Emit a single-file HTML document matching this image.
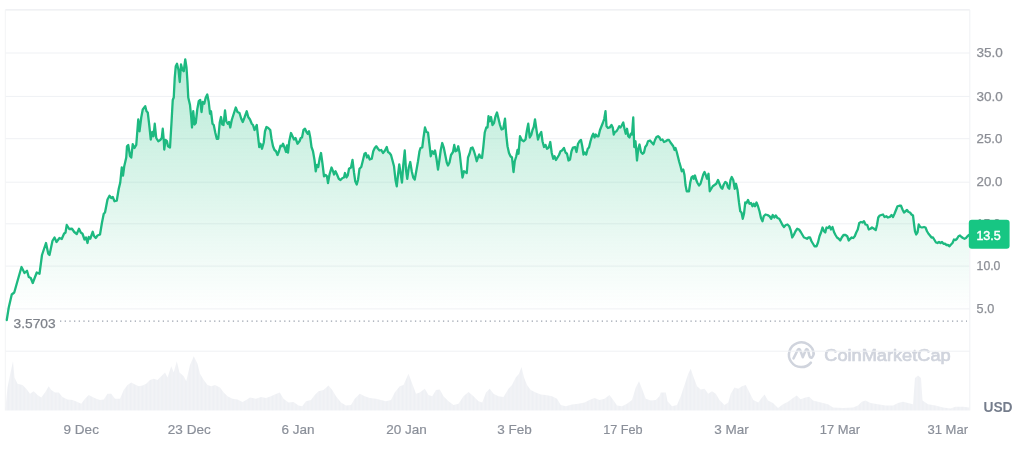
<!DOCTYPE html>
<html lang="en"><head><meta charset="utf-8"><title>Chart</title>
<style>
html,body{margin:0;padding:0;background:#fff;}
body{width:1024px;height:454px;overflow:hidden;position:relative;font-family:"Liberation Sans",sans-serif;}
svg{position:absolute;left:0;top:0;display:block;filter:blur(0.45px);}
text{font-family:"Liberation Sans",sans-serif;}
</style></head><body>
<svg width="1024" height="454" viewBox="0 0 1024 454">
<defs>
<linearGradient id="g" x1="0" y1="59" x2="0" y2="311" gradientUnits="userSpaceOnUse">
<stop offset="0" stop-color="#20c081" stop-opacity="0.31"/>
<stop offset="0.5" stop-color="#20c081" stop-opacity="0.165"/>
<stop offset="0.8" stop-color="#20c081" stop-opacity="0.062"/>
<stop offset="1" stop-color="#20c081" stop-opacity="0.0"/>
</linearGradient>
<pattern id="vb" x="5.5" y="0" width="1.34" height="10" patternUnits="userSpaceOnUse"><rect x="0" y="0" width="1.34" height="10" fill="#f3f4f7"/><rect x="0" y="0" width="0.8" height="10" fill="#eef0f4"/></pattern>
<filter id="soft" x="-5%" y="-5%" width="110%" height="110%"><feGaussianBlur stdDeviation="0.35"/></filter>
</defs>

<g fill="none" stroke="#d0d4dd" stroke-width="2.5" stroke-linecap="round" stroke-linejoin="round">
<path d="M810.9,362.6 A12.4,12.4 0 1 1 813.7,353.6"/>
<path d="M793.5,358.4 L797.6,350.2 Q799.0,347.6 800.3,350.3 L802.75,357.2 L805.6,350.4 Q806.9,347.8 808.1,350.5 L809.3,355.4 Q810.2,358.6 812.0,357.4 Q813.5,356.2 813.7,353.6"/>
</g>
<text x="824.3" y="360.8" font-size="17.2" font-weight="400" fill="#d0d4dd" stroke="#d0d4dd" stroke-width="0.7" stroke-linejoin="round" textLength="126.3" lengthAdjust="spacingAndGlyphs">CoinMarketCap</text>

<line x1="5.3" x2="969.8" y1="53" y2="53" stroke="#eff1f4" stroke-width="1"/>
<line x1="5.3" x2="969.8" y1="96.4" y2="96.4" stroke="#eff1f4" stroke-width="1"/>
<line x1="5.3" x2="969.8" y1="138.7" y2="138.7" stroke="#eff1f4" stroke-width="1"/>
<line x1="5.3" x2="969.8" y1="182.2" y2="182.2" stroke="#eff1f4" stroke-width="1"/>
<line x1="5.3" x2="969.8" y1="223.8" y2="223.8" stroke="#eff1f4" stroke-width="1"/>
<line x1="5.3" x2="969.8" y1="266.1" y2="266.1" stroke="#eff1f4" stroke-width="1"/>
<line x1="5.3" x2="969.8" y1="308.9" y2="308.9" stroke="#eff1f4" stroke-width="1"/>
<line x1="5.3" x2="969.8" y1="351.2" y2="351.2" stroke="#eff1f4" stroke-width="1"/>
<line x1="5.3" x2="969.8" y1="9.8" y2="9.8" stroke="#ebedf0" stroke-width="1.2"/>
<line x1="5.3" x2="5.3" y1="9.8" y2="410.5" stroke="#f3f4f6" stroke-width="1"/>
<line x1="969.8" x2="969.8" y1="9.8" y2="410.5" stroke="#eff1f4" stroke-width="1"/>
<path d="M5.50,407.50 L7.50,387.50 L10.00,375.00 L13.00,361.25 L14.50,377.50 L17.50,383.75 L22.50,385.00 L26.25,388.75 L30.00,393.75 L33.75,391.25 L37.50,395.00 L41.25,397.50 L45.00,392.50 L48.75,386.25 L51.25,390.00 L55.00,392.50 L58.75,392.50 L62.50,397.00 L67.50,399.50 L72.50,400.00 L77.50,402.00 L81.25,403.75 L85.00,398.75 L88.75,395.00 L92.50,397.00 L96.25,398.75 L100.00,400.00 L103.75,399.50 L107.50,393.75 L111.25,393.75 L115.00,398.75 L120.00,398.75 L123.75,390.00 L127.50,385.00 L131.25,382.50 L135.00,384.50 L138.75,386.25 L142.50,385.50 L146.25,383.75 L150.00,380.00 L153.75,378.75 L157.50,380.00 L161.25,376.25 L165.00,372.50 L167.50,377.50 L171.25,366.25 L173.75,372.50 L176.75,361.25 L179.50,372.50 L183.75,376.25 L186.25,381.25 L190.00,365.00 L193.75,356.25 L197.50,363.75 L200.00,373.75 L203.75,380.00 L207.50,385.00 L211.25,386.25 L215.00,385.00 L220.00,387.50 L223.75,392.50 L227.50,396.25 L232.50,398.75 L237.50,399.50 L242.50,402.00 L246.25,400.00 L250.00,397.50 L256.00,398.75 L261.00,397.00 L266.00,398.00 L271.00,396.25 L274.75,394.50 L279.75,392.50 L283.50,398.75 L288.50,402.50 L293.50,402.00 L298.50,405.50 L302.25,406.25 L306.00,401.25 L311.00,400.00 L314.75,395.00 L318.50,391.25 L323.50,390.00 L328.50,385.50 L332.25,390.00 L336.00,396.25 L341.00,402.50 L346.00,405.50 L351.00,405.00 L354.75,398.75 L359.75,393.75 L364.75,396.25 L369.75,398.00 L376.00,398.75 L381.00,400.00 L386.00,401.25 L391.00,400.00 L394.75,392.50 L399.75,386.25 L403.50,385.00 L408.50,373.75 L412.25,383.75 L416.00,393.75 L419.75,392.50 L424.75,388.75 L428.50,395.00 L432.25,396.25 L436.00,390.00 L439.75,389.50 L443.50,396.25 L448.50,401.25 L453.50,405.00 L458.50,403.75 L463.50,396.25 L468.50,392.00 L473.50,396.25 L478.50,401.25 L482.25,402.50 L486.00,392.50 L489.75,388.75 L493.50,393.75 L498.50,396.25 L503.50,397.00 L508.50,388.75 L512.00,385.00 L515.75,377.50 L519.00,373.75 L521.50,367.00 L524.00,377.50 L527.00,385.00 L530.75,390.00 L535.75,392.50 L540.75,394.50 L545.75,395.00 L552.00,396.25 L557.00,398.75 L560.75,405.00 L565.75,406.25 L572.00,404.50 L578.25,403.75 L584.50,402.50 L589.50,400.00 L594.50,398.00 L599.50,400.00 L604.50,398.75 L609.50,395.00 L613.25,400.00 L617.00,405.50 L622.00,406.25 L627.00,403.75 L632.00,400.00 L635.75,387.50 L639.00,381.25 L642.00,388.75 L645.75,398.75 L650.75,400.50 L655.75,400.00 L659.50,396.25 L660.75,392.50 L665.75,392.50 L667.50,401.25 L672.00,406.25 L677.00,405.00 L680.75,396.25 L684.50,385.00 L688.25,373.75 L690.75,368.75 L693.25,376.25 L697.00,386.25 L700.75,389.50 L704.50,388.75 L708.25,393.75 L712.00,391.25 L715.75,393.75 L719.50,400.00 L724.50,405.00 L728.25,402.50 L730.75,393.75 L734.50,387.50 L738.25,388.75 L742.00,386.25 L745.75,385.00 L749.50,392.50 L753.25,400.00 L758.25,402.50 L762.00,397.50 L764.50,394.50 L768.00,400.50 L773.00,403.00 L778.00,408.00 L783.00,404.25 L788.00,401.75 L793.00,398.00 L796.75,395.50 L800.50,399.25 L805.50,397.50 L809.25,396.75 L813.00,400.50 L818.00,401.75 L823.00,403.00 L828.00,404.25 L833.00,407.50 L843.00,408.00 L853.00,407.50 L858.00,405.50 L861.75,401.75 L865.50,400.50 L870.50,403.00 L878.00,404.25 L885.50,405.50 L893.00,405.50 L898.00,403.00 L903.00,401.75 L908.00,403.00 L913.00,404.25 L915.00,378.00 L918.00,375.50 L921.00,378.00 L922.50,400.50 L928.00,404.25 L935.50,405.50 L943.00,407.50 L950.50,408.50 L955.50,406.75 L963.00,406.75 L969.25,407.50 L969.25,410.5 L5.50,410.5 Z" fill="url(#vb)"/>
<path d="M6.75,320.00 L8.75,307.50 L11.75,294.50 L14.25,292.50 L17.50,281.00 L21.50,267.00 L24.50,273.00 L27.00,270.75 L28.75,277.00 L30.75,278.00 L32.75,283.00 L36.75,272.50 L39.50,273.75 L42.00,255.00 L46.00,243.00 L48.25,253.75 L49.50,255.00 L52.50,240.75 L54.50,237.50 L56.50,242.00 L59.50,238.00 L61.75,239.00 L64.00,233.75 L65.50,232.50 L66.75,225.00 L69.25,229.00 L72.00,228.75 L74.25,232.00 L76.75,234.00 L79.00,228.75 L80.75,232.50 L82.50,233.75 L84.50,239.50 L86.00,237.50 L87.50,243.00 L88.75,237.00 L90.25,238.75 L92.75,231.75 L94.00,236.00 L95.75,238.00 L97.50,235.50 L100.00,234.50 L102.00,222.50 L103.75,213.75 L105.00,212.50 L107.50,199.50 L109.50,195.75 L111.25,198.00 L112.75,197.00 L114.50,201.25 L116.75,200.75 L118.75,188.75 L120.25,182.50 L121.75,167.50 L123.00,175.50 L124.25,166.25 L126.25,157.50 L127.00,146.25 L128.25,145.00 L130.00,156.00 L131.25,157.50 L132.75,144.25 L134.50,148.00 L136.25,145.00 L138.25,119.50 L139.50,131.25 L141.25,117.50 L142.75,109.50 L145.25,106.25 L146.50,111.25 L147.75,112.50 L149.25,125.00 L150.75,139.50 L152.25,132.00 L153.50,136.25 L154.75,123.75 L156.25,138.00 L158.25,141.25 L160.25,140.00 L161.75,138.00 L162.75,128.75 L163.75,140.00 L164.25,149.50 L165.50,140.00 L167.00,141.25 L168.00,146.25 L170.00,147.50 L171.50,122.50 L172.75,100.00 L173.75,97.50 L174.75,77.50 L175.75,66.25 L177.00,63.75 L178.50,70.00 L179.75,82.00 L181.00,64.50 L182.50,70.00 L183.75,71.25 L185.25,59.50 L186.50,67.50 L187.50,82.50 L188.25,97.50 L190.00,105.00 L191.25,117.50 L192.00,127.50 L193.25,111.25 L194.50,124.50 L195.75,123.00 L197.25,109.50 L198.75,101.25 L200.25,100.00 L201.50,112.00 L202.75,102.00 L204.25,103.75 L205.75,97.50 L207.25,94.50 L208.75,102.00 L210.00,113.75 L211.00,111.25 L212.50,123.75 L213.75,125.00 L215.25,132.50 L216.75,138.75 L218.25,138.75 L219.75,122.50 L221.00,117.00 L222.25,124.50 L223.50,125.00 L225.00,110.50 L226.25,121.25 L227.75,123.75 L229.00,122.00 L230.25,127.50 L231.75,120.00 L233.75,113.75 L235.75,107.50 L237.50,112.00 L239.50,113.00 L241.25,118.75 L242.75,122.00 L244.50,117.50 L246.75,111.25 L248.25,117.00 L250.00,119.50 L251.75,123.75 L253.00,125.00 L254.50,130.00 L256.75,125.00 L258.00,136.25 L259.25,147.00 L260.50,143.75 L262.00,148.75 L263.75,142.50 L265.00,131.25 L266.50,127.00 L268.25,128.00 L270.25,130.00 L271.50,138.75 L273.00,146.25 L274.50,150.00 L276.00,151.25 L277.50,155.00 L279.00,151.25 L280.50,145.75 L281.75,146.25 L283.00,143.75 L284.50,147.50 L286.00,152.00 L287.00,145.50 L288.00,152.50 L289.25,141.25 L291.00,133.00 L292.50,136.25 L294.00,139.50 L295.50,138.00 L297.50,143.75 L299.50,141.25 L300.75,138.00 L302.00,137.50 L303.50,130.00 L305.00,128.75 L306.50,132.00 L307.75,133.75 L309.00,131.25 L310.25,137.50 L311.50,147.00 L313.00,151.25 L314.50,160.00 L315.75,171.25 L317.00,165.00 L318.25,167.00 L319.75,158.00 L321.00,153.00 L322.50,163.75 L324.00,176.25 L325.75,175.00 L327.00,176.25 L328.00,183.00 L329.50,174.50 L331.50,167.50 L333.00,171.25 L334.00,174.50 L335.50,171.25 L337.00,174.50 L338.75,178.75 L340.50,180.00 L342.50,178.00 L344.00,177.50 L345.00,173.00 L346.50,177.50 L347.75,175.50 L349.00,168.75 L351.00,167.50 L352.50,160.00 L354.00,172.50 L355.25,181.25 L356.75,184.50 L358.00,180.00 L359.50,168.75 L361.25,167.00 L363.00,160.00 L364.50,153.75 L365.75,153.00 L367.00,157.50 L368.25,155.50 L369.75,159.50 L371.75,158.75 L373.25,151.25 L374.75,148.00 L376.25,146.25 L378.00,148.75 L379.50,150.50 L381.25,150.00 L383.00,153.00 L385.00,150.50 L386.75,147.00 L388.00,152.00 L389.50,153.00 L391.00,155.00 L392.50,160.50 L394.00,166.25 L395.50,180.00 L396.75,186.25 L398.00,175.00 L399.25,164.50 L400.50,172.50 L402.00,182.50 L403.25,165.00 L404.75,150.50 L406.00,170.00 L407.25,178.75 L408.75,167.50 L410.25,162.00 L411.75,171.25 L413.25,177.50 L414.75,179.50 L416.25,171.25 L418.00,161.25 L419.50,151.25 L420.50,148.00 L422.25,147.50 L423.50,137.50 L425.00,127.50 L426.50,132.00 L428.00,132.50 L429.50,145.00 L430.75,156.25 L432.25,151.25 L433.75,153.75 L435.00,150.50 L436.50,158.75 L438.00,169.50 L439.25,161.25 L440.75,150.00 L442.25,143.00 L443.75,147.50 L445.25,155.00 L446.75,162.50 L448.00,165.50 L449.50,162.50 L451.00,155.00 L453.00,152.00 L454.25,145.00 L455.50,151.25 L457.00,150.50 L458.25,146.25 L459.75,153.75 L461.25,167.50 L462.50,177.50 L464.00,171.25 L465.50,172.00 L466.75,173.00 L468.00,157.50 L469.50,153.75 L471.00,148.00 L472.50,147.50 L474.00,151.25 L475.50,156.25 L476.75,161.25 L478.00,157.50 L479.25,154.50 L480.50,157.50 L482.00,158.00 L483.25,147.50 L484.75,132.50 L486.25,127.50 L487.50,127.50 L488.50,116.25 L489.75,121.25 L491.00,117.00 L492.50,125.00 L494.00,123.00 L495.50,116.25 L497.00,112.50 L498.50,118.75 L500.00,125.00 L501.50,129.50 L503.25,128.75 L505.00,118.75 L506.25,135.00 L507.50,146.25 L509.00,153.00 L510.50,156.25 L512.00,157.50 L513.50,172.00 L514.75,161.25 L516.25,156.25 L517.50,150.00 L518.50,153.75 L520.00,136.25 L521.75,140.00 L523.75,141.25 L525.50,139.50 L527.00,130.00 L528.25,123.75 L529.75,137.50 L531.25,135.00 L532.50,130.00 L533.75,127.00 L535.00,119.50 L536.50,130.00 L538.00,139.50 L539.50,135.00 L541.25,132.00 L542.50,141.25 L544.00,147.00 L545.50,145.00 L547.00,148.75 L548.75,147.50 L550.25,142.00 L551.75,153.00 L553.25,158.75 L554.50,156.25 L556.00,160.00 L557.50,157.50 L559.00,155.00 L560.50,151.25 L562.00,150.50 L564.00,148.00 L565.50,152.50 L567.00,153.75 L568.50,160.50 L570.00,159.50 L571.50,151.25 L573.00,147.50 L575.00,147.00 L576.50,152.00 L578.00,143.75 L579.50,141.25 L581.00,140.00 L582.25,146.25 L583.50,154.50 L584.75,152.50 L586.25,154.50 L587.75,148.75 L589.00,147.50 L590.50,141.25 L592.00,136.25 L593.25,133.75 L594.50,137.50 L595.75,134.50 L597.00,136.25 L598.50,136.25 L600.00,130.00 L601.50,126.25 L603.00,122.50 L604.25,118.75 L605.50,111.25 L606.50,126.25 L608.00,128.00 L609.75,127.50 L611.50,125.00 L612.75,127.50 L613.75,134.50 L615.00,132.00 L616.50,131.25 L618.00,128.75 L619.25,126.25 L620.50,127.50 L621.75,125.50 L623.25,122.50 L624.50,128.75 L625.75,133.75 L627.00,128.75 L628.25,136.25 L629.50,137.50 L630.75,133.75 L632.00,134.50 L633.25,117.50 L634.25,147.00 L635.50,141.25 L637.00,160.50 L638.25,148.75 L639.50,144.50 L641.00,152.00 L642.50,153.75 L644.00,152.50 L645.25,147.00 L646.75,145.00 L648.00,141.25 L650.00,140.50 L651.75,142.50 L653.50,144.50 L655.00,140.00 L656.50,137.00 L658.00,136.25 L659.50,137.50 L660.75,140.00 L662.50,139.50 L664.00,142.00 L665.75,141.25 L667.50,140.00 L669.00,140.00 L670.50,142.50 L672.00,144.50 L673.25,146.25 L674.50,150.00 L675.50,148.00 L676.75,152.00 L678.00,157.00 L679.25,162.00 L680.50,166.25 L681.75,171.25 L683.25,169.50 L684.50,175.00 L685.50,185.00 L686.75,191.25 L689.00,191.25 L690.25,182.50 L691.50,177.50 L693.00,176.25 L693.75,178.75 L695.00,175.50 L696.25,180.00 L697.50,183.00 L699.00,185.50 L700.50,183.75 L702.00,178.75 L703.25,174.50 L704.50,172.00 L705.75,175.00 L707.00,178.75 L708.50,173.75 L709.75,191.25 L711.25,188.75 L712.75,186.25 L714.50,185.00 L716.25,183.75 L718.00,180.00 L719.50,183.75 L721.00,187.50 L722.25,188.75 L723.75,184.50 L725.25,182.00 L726.75,183.00 L728.00,187.50 L729.25,188.75 L730.50,180.00 L731.75,177.00 L733.25,180.00 L734.75,188.75 L736.00,183.75 L737.50,190.00 L739.00,202.50 L740.25,211.25 L741.50,212.50 L742.75,218.75 L744.00,213.75 L745.25,202.50 L746.50,203.00 L748.00,200.00 L749.50,203.75 L751.00,203.00 L752.50,206.25 L753.75,203.75 L755.00,206.25 L756.50,202.50 L758.00,206.25 L759.50,211.25 L761.00,218.00 L762.50,221.25 L763.75,216.25 L765.50,214.50 L767.50,215.00 L769.50,216.25 L771.25,218.75 L772.75,215.00 L774.25,217.50 L775.75,215.50 L777.50,218.00 L779.25,218.75 L781.00,222.00 L782.50,225.00 L784.00,227.00 L785.75,225.00 L787.50,224.50 L789.25,226.25 L790.75,230.50 L792.25,237.50 L793.75,235.00 L795.50,231.25 L797.25,228.75 L799.00,229.50 L800.75,232.00 L802.50,235.00 L804.00,237.50 L805.50,238.00 L807.00,238.75 L808.50,237.50 L810.00,237.50 L811.50,241.25 L813.00,243.75 L814.50,246.25 L816.50,246.25 L818.00,242.50 L819.50,236.25 L821.00,232.50 L822.50,227.50 L824.00,231.25 L825.25,232.50 L826.50,227.50 L828.00,228.00 L829.50,226.25 L831.00,229.50 L832.50,227.00 L834.00,232.00 L835.50,235.00 L837.00,237.50 L838.75,238.75 L840.25,240.50 L841.75,237.50 L843.50,235.00 L845.50,235.00 L847.25,236.25 L848.75,240.50 L850.25,238.75 L851.75,237.50 L853.25,238.00 L854.75,236.25 L856.25,232.50 L857.75,229.50 L859.25,223.00 L861.00,222.00 L862.50,222.50 L864.00,221.25 L865.50,224.50 L867.25,225.00 L868.75,229.50 L870.50,228.75 L872.00,227.50 L874.00,228.75 L875.75,230.00 L877.00,225.00 L878.25,217.50 L879.75,215.50 L881.25,215.00 L883.00,214.50 L884.50,217.00 L886.25,216.25 L888.00,217.50 L889.75,217.00 L891.50,215.00 L893.00,217.00 L894.50,213.75 L896.00,210.00 L897.50,206.25 L899.25,205.75 L901.00,205.75 L902.50,209.50 L904.00,212.50 L905.50,211.25 L907.00,210.00 L908.50,212.00 L910.00,212.50 L911.50,214.50 L913.00,215.50 L914.00,223.75 L915.00,231.25 L916.25,234.50 L917.50,232.50 L918.75,224.50 L920.25,227.00 L922.00,227.50 L924.00,227.00 L925.50,227.50 L927.00,231.25 L928.50,233.75 L930.00,235.50 L931.50,237.50 L933.00,237.50 L934.50,240.00 L936.00,242.50 L937.50,243.00 L939.00,242.00 L940.50,243.00 L942.00,242.00 L943.50,243.75 L945.00,243.75 L946.50,245.00 L948.00,245.00 L949.50,246.25 L951.00,244.50 L952.50,243.00 L954.00,239.50 L955.50,240.00 L957.00,238.75 L958.50,236.25 L960.00,235.50 L961.50,237.00 L963.00,238.00 L964.50,238.75 L966.00,238.00 L967.50,236.25 L969.00,235.00 L969.00,351 L6.75,351 Z" fill="url(#g)"/>
<path d="M6.75,320.00 L8.75,307.50 L11.75,294.50 L14.25,292.50 L17.50,281.00 L21.50,267.00 L24.50,273.00 L27.00,270.75 L28.75,277.00 L30.75,278.00 L32.75,283.00 L36.75,272.50 L39.50,273.75 L42.00,255.00 L46.00,243.00 L48.25,253.75 L49.50,255.00 L52.50,240.75 L54.50,237.50 L56.50,242.00 L59.50,238.00 L61.75,239.00 L64.00,233.75 L65.50,232.50 L66.75,225.00 L69.25,229.00 L72.00,228.75 L74.25,232.00 L76.75,234.00 L79.00,228.75 L80.75,232.50 L82.50,233.75 L84.50,239.50 L86.00,237.50 L87.50,243.00 L88.75,237.00 L90.25,238.75 L92.75,231.75 L94.00,236.00 L95.75,238.00 L97.50,235.50 L100.00,234.50 L102.00,222.50 L103.75,213.75 L105.00,212.50 L107.50,199.50 L109.50,195.75 L111.25,198.00 L112.75,197.00 L114.50,201.25 L116.75,200.75 L118.75,188.75 L120.25,182.50 L121.75,167.50 L123.00,175.50 L124.25,166.25 L126.25,157.50 L127.00,146.25 L128.25,145.00 L130.00,156.00 L131.25,157.50 L132.75,144.25 L134.50,148.00 L136.25,145.00 L138.25,119.50 L139.50,131.25 L141.25,117.50 L142.75,109.50 L145.25,106.25 L146.50,111.25 L147.75,112.50 L149.25,125.00 L150.75,139.50 L152.25,132.00 L153.50,136.25 L154.75,123.75 L156.25,138.00 L158.25,141.25 L160.25,140.00 L161.75,138.00 L162.75,128.75 L163.75,140.00 L164.25,149.50 L165.50,140.00 L167.00,141.25 L168.00,146.25 L170.00,147.50 L171.50,122.50 L172.75,100.00 L173.75,97.50 L174.75,77.50 L175.75,66.25 L177.00,63.75 L178.50,70.00 L179.75,82.00 L181.00,64.50 L182.50,70.00 L183.75,71.25 L185.25,59.50 L186.50,67.50 L187.50,82.50 L188.25,97.50 L190.00,105.00 L191.25,117.50 L192.00,127.50 L193.25,111.25 L194.50,124.50 L195.75,123.00 L197.25,109.50 L198.75,101.25 L200.25,100.00 L201.50,112.00 L202.75,102.00 L204.25,103.75 L205.75,97.50 L207.25,94.50 L208.75,102.00 L210.00,113.75 L211.00,111.25 L212.50,123.75 L213.75,125.00 L215.25,132.50 L216.75,138.75 L218.25,138.75 L219.75,122.50 L221.00,117.00 L222.25,124.50 L223.50,125.00 L225.00,110.50 L226.25,121.25 L227.75,123.75 L229.00,122.00 L230.25,127.50 L231.75,120.00 L233.75,113.75 L235.75,107.50 L237.50,112.00 L239.50,113.00 L241.25,118.75 L242.75,122.00 L244.50,117.50 L246.75,111.25 L248.25,117.00 L250.00,119.50 L251.75,123.75 L253.00,125.00 L254.50,130.00 L256.75,125.00 L258.00,136.25 L259.25,147.00 L260.50,143.75 L262.00,148.75 L263.75,142.50 L265.00,131.25 L266.50,127.00 L268.25,128.00 L270.25,130.00 L271.50,138.75 L273.00,146.25 L274.50,150.00 L276.00,151.25 L277.50,155.00 L279.00,151.25 L280.50,145.75 L281.75,146.25 L283.00,143.75 L284.50,147.50 L286.00,152.00 L287.00,145.50 L288.00,152.50 L289.25,141.25 L291.00,133.00 L292.50,136.25 L294.00,139.50 L295.50,138.00 L297.50,143.75 L299.50,141.25 L300.75,138.00 L302.00,137.50 L303.50,130.00 L305.00,128.75 L306.50,132.00 L307.75,133.75 L309.00,131.25 L310.25,137.50 L311.50,147.00 L313.00,151.25 L314.50,160.00 L315.75,171.25 L317.00,165.00 L318.25,167.00 L319.75,158.00 L321.00,153.00 L322.50,163.75 L324.00,176.25 L325.75,175.00 L327.00,176.25 L328.00,183.00 L329.50,174.50 L331.50,167.50 L333.00,171.25 L334.00,174.50 L335.50,171.25 L337.00,174.50 L338.75,178.75 L340.50,180.00 L342.50,178.00 L344.00,177.50 L345.00,173.00 L346.50,177.50 L347.75,175.50 L349.00,168.75 L351.00,167.50 L352.50,160.00 L354.00,172.50 L355.25,181.25 L356.75,184.50 L358.00,180.00 L359.50,168.75 L361.25,167.00 L363.00,160.00 L364.50,153.75 L365.75,153.00 L367.00,157.50 L368.25,155.50 L369.75,159.50 L371.75,158.75 L373.25,151.25 L374.75,148.00 L376.25,146.25 L378.00,148.75 L379.50,150.50 L381.25,150.00 L383.00,153.00 L385.00,150.50 L386.75,147.00 L388.00,152.00 L389.50,153.00 L391.00,155.00 L392.50,160.50 L394.00,166.25 L395.50,180.00 L396.75,186.25 L398.00,175.00 L399.25,164.50 L400.50,172.50 L402.00,182.50 L403.25,165.00 L404.75,150.50 L406.00,170.00 L407.25,178.75 L408.75,167.50 L410.25,162.00 L411.75,171.25 L413.25,177.50 L414.75,179.50 L416.25,171.25 L418.00,161.25 L419.50,151.25 L420.50,148.00 L422.25,147.50 L423.50,137.50 L425.00,127.50 L426.50,132.00 L428.00,132.50 L429.50,145.00 L430.75,156.25 L432.25,151.25 L433.75,153.75 L435.00,150.50 L436.50,158.75 L438.00,169.50 L439.25,161.25 L440.75,150.00 L442.25,143.00 L443.75,147.50 L445.25,155.00 L446.75,162.50 L448.00,165.50 L449.50,162.50 L451.00,155.00 L453.00,152.00 L454.25,145.00 L455.50,151.25 L457.00,150.50 L458.25,146.25 L459.75,153.75 L461.25,167.50 L462.50,177.50 L464.00,171.25 L465.50,172.00 L466.75,173.00 L468.00,157.50 L469.50,153.75 L471.00,148.00 L472.50,147.50 L474.00,151.25 L475.50,156.25 L476.75,161.25 L478.00,157.50 L479.25,154.50 L480.50,157.50 L482.00,158.00 L483.25,147.50 L484.75,132.50 L486.25,127.50 L487.50,127.50 L488.50,116.25 L489.75,121.25 L491.00,117.00 L492.50,125.00 L494.00,123.00 L495.50,116.25 L497.00,112.50 L498.50,118.75 L500.00,125.00 L501.50,129.50 L503.25,128.75 L505.00,118.75 L506.25,135.00 L507.50,146.25 L509.00,153.00 L510.50,156.25 L512.00,157.50 L513.50,172.00 L514.75,161.25 L516.25,156.25 L517.50,150.00 L518.50,153.75 L520.00,136.25 L521.75,140.00 L523.75,141.25 L525.50,139.50 L527.00,130.00 L528.25,123.75 L529.75,137.50 L531.25,135.00 L532.50,130.00 L533.75,127.00 L535.00,119.50 L536.50,130.00 L538.00,139.50 L539.50,135.00 L541.25,132.00 L542.50,141.25 L544.00,147.00 L545.50,145.00 L547.00,148.75 L548.75,147.50 L550.25,142.00 L551.75,153.00 L553.25,158.75 L554.50,156.25 L556.00,160.00 L557.50,157.50 L559.00,155.00 L560.50,151.25 L562.00,150.50 L564.00,148.00 L565.50,152.50 L567.00,153.75 L568.50,160.50 L570.00,159.50 L571.50,151.25 L573.00,147.50 L575.00,147.00 L576.50,152.00 L578.00,143.75 L579.50,141.25 L581.00,140.00 L582.25,146.25 L583.50,154.50 L584.75,152.50 L586.25,154.50 L587.75,148.75 L589.00,147.50 L590.50,141.25 L592.00,136.25 L593.25,133.75 L594.50,137.50 L595.75,134.50 L597.00,136.25 L598.50,136.25 L600.00,130.00 L601.50,126.25 L603.00,122.50 L604.25,118.75 L605.50,111.25 L606.50,126.25 L608.00,128.00 L609.75,127.50 L611.50,125.00 L612.75,127.50 L613.75,134.50 L615.00,132.00 L616.50,131.25 L618.00,128.75 L619.25,126.25 L620.50,127.50 L621.75,125.50 L623.25,122.50 L624.50,128.75 L625.75,133.75 L627.00,128.75 L628.25,136.25 L629.50,137.50 L630.75,133.75 L632.00,134.50 L633.25,117.50 L634.25,147.00 L635.50,141.25 L637.00,160.50 L638.25,148.75 L639.50,144.50 L641.00,152.00 L642.50,153.75 L644.00,152.50 L645.25,147.00 L646.75,145.00 L648.00,141.25 L650.00,140.50 L651.75,142.50 L653.50,144.50 L655.00,140.00 L656.50,137.00 L658.00,136.25 L659.50,137.50 L660.75,140.00 L662.50,139.50 L664.00,142.00 L665.75,141.25 L667.50,140.00 L669.00,140.00 L670.50,142.50 L672.00,144.50 L673.25,146.25 L674.50,150.00 L675.50,148.00 L676.75,152.00 L678.00,157.00 L679.25,162.00 L680.50,166.25 L681.75,171.25 L683.25,169.50 L684.50,175.00 L685.50,185.00 L686.75,191.25 L689.00,191.25 L690.25,182.50 L691.50,177.50 L693.00,176.25 L693.75,178.75 L695.00,175.50 L696.25,180.00 L697.50,183.00 L699.00,185.50 L700.50,183.75 L702.00,178.75 L703.25,174.50 L704.50,172.00 L705.75,175.00 L707.00,178.75 L708.50,173.75 L709.75,191.25 L711.25,188.75 L712.75,186.25 L714.50,185.00 L716.25,183.75 L718.00,180.00 L719.50,183.75 L721.00,187.50 L722.25,188.75 L723.75,184.50 L725.25,182.00 L726.75,183.00 L728.00,187.50 L729.25,188.75 L730.50,180.00 L731.75,177.00 L733.25,180.00 L734.75,188.75 L736.00,183.75 L737.50,190.00 L739.00,202.50 L740.25,211.25 L741.50,212.50 L742.75,218.75 L744.00,213.75 L745.25,202.50 L746.50,203.00 L748.00,200.00 L749.50,203.75 L751.00,203.00 L752.50,206.25 L753.75,203.75 L755.00,206.25 L756.50,202.50 L758.00,206.25 L759.50,211.25 L761.00,218.00 L762.50,221.25 L763.75,216.25 L765.50,214.50 L767.50,215.00 L769.50,216.25 L771.25,218.75 L772.75,215.00 L774.25,217.50 L775.75,215.50 L777.50,218.00 L779.25,218.75 L781.00,222.00 L782.50,225.00 L784.00,227.00 L785.75,225.00 L787.50,224.50 L789.25,226.25 L790.75,230.50 L792.25,237.50 L793.75,235.00 L795.50,231.25 L797.25,228.75 L799.00,229.50 L800.75,232.00 L802.50,235.00 L804.00,237.50 L805.50,238.00 L807.00,238.75 L808.50,237.50 L810.00,237.50 L811.50,241.25 L813.00,243.75 L814.50,246.25 L816.50,246.25 L818.00,242.50 L819.50,236.25 L821.00,232.50 L822.50,227.50 L824.00,231.25 L825.25,232.50 L826.50,227.50 L828.00,228.00 L829.50,226.25 L831.00,229.50 L832.50,227.00 L834.00,232.00 L835.50,235.00 L837.00,237.50 L838.75,238.75 L840.25,240.50 L841.75,237.50 L843.50,235.00 L845.50,235.00 L847.25,236.25 L848.75,240.50 L850.25,238.75 L851.75,237.50 L853.25,238.00 L854.75,236.25 L856.25,232.50 L857.75,229.50 L859.25,223.00 L861.00,222.00 L862.50,222.50 L864.00,221.25 L865.50,224.50 L867.25,225.00 L868.75,229.50 L870.50,228.75 L872.00,227.50 L874.00,228.75 L875.75,230.00 L877.00,225.00 L878.25,217.50 L879.75,215.50 L881.25,215.00 L883.00,214.50 L884.50,217.00 L886.25,216.25 L888.00,217.50 L889.75,217.00 L891.50,215.00 L893.00,217.00 L894.50,213.75 L896.00,210.00 L897.50,206.25 L899.25,205.75 L901.00,205.75 L902.50,209.50 L904.00,212.50 L905.50,211.25 L907.00,210.00 L908.50,212.00 L910.00,212.50 L911.50,214.50 L913.00,215.50 L914.00,223.75 L915.00,231.25 L916.25,234.50 L917.50,232.50 L918.75,224.50 L920.25,227.00 L922.00,227.50 L924.00,227.00 L925.50,227.50 L927.00,231.25 L928.50,233.75 L930.00,235.50 L931.50,237.50 L933.00,237.50 L934.50,240.00 L936.00,242.50 L937.50,243.00 L939.00,242.00 L940.50,243.00 L942.00,242.00 L943.50,243.75 L945.00,243.75 L946.50,245.00 L948.00,245.00 L949.50,246.25 L951.00,244.50 L952.50,243.00 L954.00,239.50 L955.50,240.00 L957.00,238.75 L958.50,236.25 L960.00,235.50 L961.50,237.00 L963.00,238.00 L964.50,238.75 L966.00,238.00 L967.50,236.25 L969.00,235.00" fill="none" stroke="#1db980" stroke-width="2.3" stroke-linejoin="round" stroke-linecap="round"/>
<line x1="60" x2="967" y1="321.2" y2="321.2" stroke="#9aa1ad" stroke-width="1.3" stroke-dasharray="1.3 3.37"/>
<text x="13.6" y="327.5" font-size="13" fill="#7d8189" stroke="#7d8189" stroke-width="0.25" textLength="42" lengthAdjust="spacingAndGlyphs">3.5703</text>
<text x="976.6" y="57.2" font-size="12.6" fill="#8b8e95" stroke="#8b8e95" stroke-width="0.25" textLength="26.3" lengthAdjust="spacingAndGlyphs">35.0</text>
<text x="976.6" y="100.6" font-size="12.6" fill="#8b8e95" stroke="#8b8e95" stroke-width="0.25" textLength="26.3" lengthAdjust="spacingAndGlyphs">30.0</text>
<text x="976.6" y="142.9" font-size="12.6" fill="#8b8e95" stroke="#8b8e95" stroke-width="0.25" textLength="25.8" lengthAdjust="spacingAndGlyphs">25.0</text>
<text x="976.6" y="186.4" font-size="12.6" fill="#8b8e95" stroke="#8b8e95" stroke-width="0.25" textLength="25.8" lengthAdjust="spacingAndGlyphs">20.0</text>
<text x="976.6" y="228.0" font-size="12.6" fill="#8b8e95" stroke="#8b8e95" stroke-width="0.25" textLength="23.8" lengthAdjust="spacingAndGlyphs">15.0</text>
<text x="976.6" y="270.3" font-size="12.6" fill="#8b8e95" stroke="#8b8e95" stroke-width="0.25" textLength="23.8" lengthAdjust="spacingAndGlyphs">10.0</text>
<text x="976.6" y="313.1" font-size="12.6" fill="#8b8e95" stroke="#8b8e95" stroke-width="0.25" textLength="17.6" lengthAdjust="spacingAndGlyphs">5.0</text>
<rect x="968.8" y="219.8" width="40.8" height="28.9" rx="3" fill="#17c683"/>
<text x="976.4" y="239.9" font-size="13.4" fill="#ffffff" stroke="#ffffff" stroke-width="0.45" textLength="24.4" lengthAdjust="spacingAndGlyphs">13.5</text>
<text x="81.25" y="433.8" font-size="13.5" text-anchor="middle" fill="#8a8f99" stroke="#8a8f99" stroke-width="0.2">9 Dec</text>
<text x="189.25" y="433.8" font-size="13.5" text-anchor="middle" fill="#8a8f99" stroke="#8a8f99" stroke-width="0.2">23 Dec</text>
<text x="297.9" y="433.8" font-size="13.5" text-anchor="middle" fill="#8a8f99" stroke="#8a8f99" stroke-width="0.2">6 Jan</text>
<text x="406.4" y="433.8" font-size="13.5" text-anchor="middle" fill="#8a8f99" stroke="#8a8f99" stroke-width="0.2">20 Jan</text>
<text x="514.5" y="433.8" font-size="13.5" text-anchor="middle" fill="#8a8f99" stroke="#8a8f99" stroke-width="0.2">3 Feb</text>
<text x="622.9" y="433.8" font-size="13.5" text-anchor="middle" fill="#8a8f99" stroke="#8a8f99" stroke-width="0.2" textLength="39.4" lengthAdjust="spacingAndGlyphs">17 Feb</text>
<text x="731.4" y="433.8" font-size="13.5" text-anchor="middle" fill="#8a8f99" stroke="#8a8f99" stroke-width="0.2">3 Mar</text>
<text x="840" y="433.8" font-size="13.5" text-anchor="middle" fill="#8a8f99" stroke="#8a8f99" stroke-width="0.2" textLength="40.3" lengthAdjust="spacingAndGlyphs">17 Mar</text>
<text x="947.75" y="433.8" font-size="13.5" text-anchor="middle" fill="#8a8f99" stroke="#8a8f99" stroke-width="0.2" textLength="40.6" lengthAdjust="spacingAndGlyphs">31 Mar</text>
<text x="998" y="411.6" font-size="13.8" font-weight="700" text-anchor="middle" fill="#757d8c">USD</text>
</svg></body></html>
